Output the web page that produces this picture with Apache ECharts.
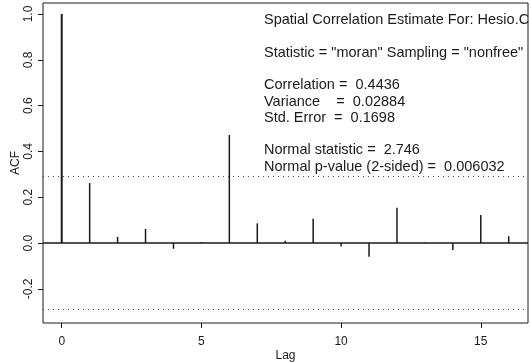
<!DOCTYPE html>
<html>
<head>
<meta charset="utf-8">
<script src="https://cdn.jsdelivr.net/npm/echarts@6/dist/echarts.min.js"></script>
<style>
  html, body { margin: 0; padding: 0; background: #fff; }
  #chart { width: 531px; height: 362px; }
</style>
</head>
<body>
<div id="chart"></div>
<script>
// ACF values by lag
const lags = [0, 1, 2, 3, 4, 5, 6, 7, 8, 9, 10, 11, 12, 13, 14, 15, 16]
const acf = [1.0, 0.262, 0.027, 0.062, -0.025, 0.004, 0.472, 0.086, 0.01, 0.106, -0.015, -0.06, 0.154, 0.003, -0.03, 0.122, 0.03]
const bands = [0.29, -0.29]
const xTicks = [0, 5, 10, 15]
const yTicks = [-0.2, 0, 0.2, 0.4, 0.6, 0.8, 1.0]
const statLines = [
  'Spatial Correlation Estimate For: Hesio.C',
  '',
  'Statistic = "moran" Sampling = "nonfree"',
  '',
  'Correlation =  0.4436',
  'Variance    =  0.02884',
  'Std. Error  =  0.1698',
  '',
  'Normal statistic =  2.746',
  'Normal p-value (2-sided) =  0.006032',
]

const font = '"Liberation Sans", Arial, sans-serif'
const ink = '#1a1a1a'

const chart = echarts.init(document.getElementById('chart'))

// stat text block: one line every 16.3px, blank entries just skip a line
const textEls = []
statLines.forEach((line, k) => {
  if (line === '') return
  textEls.push({
    type: 'text', left: 264, top: 12.5 + k * 16.3,
    style: { text: line, fontSize: 14.5, fontFamily: font, fill: ink }
  })
})

const option = {
  animation: false,
  grid: {
    left: 43, right: 3, top: 3, bottom: 39,
    outerBoundsMode: 'none',
    show: true, borderColor: ink, borderWidth: 1
  },
  xAxis: {
    type: 'value', min: -0.67, max: 16.69,
    name: 'Lag', nameLocation: 'middle', nameGap: 27, nameMoveOverlap: false,
    nameTextStyle: { color: ink, fontSize: 12, fontFamily: font },
    splitLine: { show: false },
    axisLine: { show: false, onZero: false },
    axisTick: { show: true, length: 5, customValues: xTicks, lineStyle: { color: ink } },
    axisLabel: { customValues: xTicks, color: ink, fontSize: 12, fontFamily: font, margin: 13 }
  },
  yAxis: {
    type: 'value', min: -0.349, max: 1.048,
    name: 'ACF', nameLocation: 'middle', nameGap: 21, nameRotate: 90, nameMoveOverlap: false,
    nameTextStyle: { color: ink, fontSize: 12, fontFamily: font },
    splitLine: { show: false },
    axisLine: { show: false, onZero: false },
    axisTick: { show: true, length: 5, customValues: yTicks, lineStyle: { color: ink } },
    axisLabel: {
      customValues: yTicks, rotate: 90, color: ink, fontSize: 12, fontFamily: font, margin: 8,
      formatter: v => v.toFixed(1)
    }
  },
  graphic: textEls,
  series: [
    {
      type: 'custom',
      data: lags.map((l, i) => [l, acf[i]]),
      renderItem: (params, api) => {
        const p0 = api.coord([api.value(0), 0])
        const p1 = api.coord([api.value(0), api.value(1)])
        return {
          type: 'line',
          shape: { x1: p0[0], y1: p0[1], x2: p1[0], y2: p1[1] },
          style: { stroke: ink, lineWidth: api.value(0) === 0 ? 2 : 1.5 }
        }
      },
      markLine: {
        symbol: 'none', silent: true, label: { show: false },
        data: [
          { yAxis: 0, lineStyle: { color: ink, width: 1.5, type: 'solid' } },
          { yAxis: bands[0], lineStyle: { color: '#444', width: 1, type: [1, 4] } },
          { yAxis: bands[1], lineStyle: { color: '#444', width: 1, type: [1, 4] } }
        ]
      }
    }
  ]
}

chart.setOption(option)
</script>
</body>
</html>
